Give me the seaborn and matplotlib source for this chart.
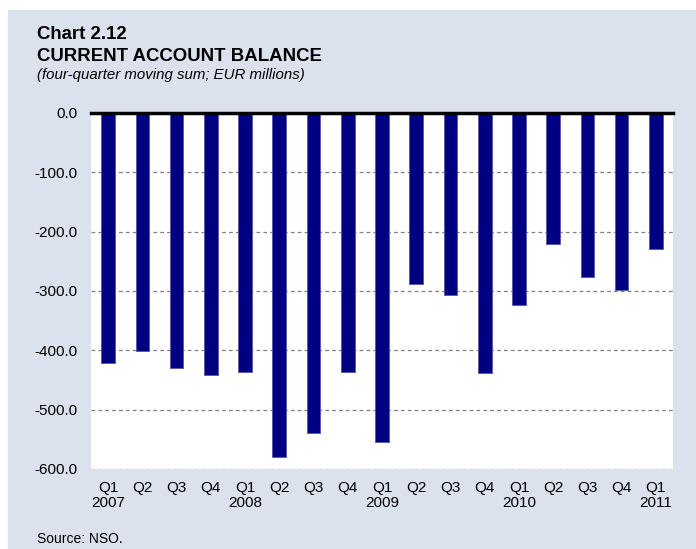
# Chart 2.12 — Current account balance (four-quarter moving sum)
import seaborn as sns
import matplotlib.pyplot as plt
import pandas as pd
from matplotlib.patches import Rectangle

PERIODS = ['2007Q1', '2007Q2', '2007Q3', '2007Q4',
           '2008Q1', '2008Q2', '2008Q3', '2008Q4',
           '2009Q1', '2009Q2', '2009Q3', '2009Q4',
           '2010Q1', '2010Q2', '2010Q3', '2010Q4',
           '2011Q1']
BALANCE = [-422, -401, -429, -442,
           -436, -580, -539, -436,
           -555, -289, -306, -438,
           -324, -220, -276, -298,
           -229]
TICK_LABELS = ['Q1\n2007', 'Q2', 'Q3', 'Q4',
               'Q1\n2008', 'Q2', 'Q3', 'Q4',
               'Q1\n2009', 'Q2', 'Q3', 'Q4',
               'Q1\n2010', 'Q2', 'Q3', 'Q4',
               'Q1\n2011']
Y_TICKS = [0, -100, -200, -300, -400, -500, -600]

BG = '#dce1ee'
BAR = '#000080'

sns.set_theme(style='white')
plt.rcParams['font.family'] = ['Liberation Sans', 'DejaVu Sans']
plt.rcParams['axes.unicode_minus'] = False
plt.rcParams['text.color'] = 'black'

df = pd.DataFrame({'periodo': PERIODS, 'saldo': BALANCE})

fig = plt.figure(figsize=(6.96, 5.49), dpi=100, facecolor='white')
fig.patches.append(Rectangle((8 / 696, 0), 1, (549 - 10) / 549,
                             transform=fig.transFigure, color=BG, zorder=-10))
ax = fig.add_axes([91 / 696, 1 - 469 / 549, (673 - 91) / 696, (469 - 113) / 549])
ax.set_facecolor('white')

sns.barplot(data=df, x='periodo', y='saldo', order=PERIODS, color=BAR,
            saturation=1, width=0.4, edgecolor='#5a5ab0', linewidth=0.7, ax=ax)

ax.set_ylim(-600, 0)
ax.set_xlim(-0.5, len(PERIODS) - 0.5)
ax.set_yticks(Y_TICKS)
ax.set_yticklabels([f'{v:.1f}' for v in Y_TICKS], fontsize=11)
ax.set_xticks(range(len(PERIODS)))
ax.set_xticklabels(TICK_LABELS, fontsize=11, linespacing=1.1)
ax.tick_params(axis='both', length=0, colors='black')
ax.tick_params(axis='y', pad=9.4)
ax.tick_params(axis='x', pad=8.5)
ax.set_xlabel('')
ax.set_ylabel('')

ax.yaxis.grid(True, color='#808080', linestyle=(0, (3, 2.5)), linewidth=0.9)
ax.set_axisbelow(True)
for s in ['left', 'right', 'bottom']:
    ax.spines[s].set_visible(False)
ax.spines['top'].set_visible(True)
ax.spines['top'].set_color('black')
ax.spines['top'].set_linewidth(2.5)

fig.text(37 / 696, 1 - 39 / 549, 'Chart 2.12', fontsize=13.4, fontweight='bold', va='baseline')
fig.text(37 / 696, 1 - 61 / 549, 'CURRENT ACCOUNT BALANCE', fontsize=13.4,
         fontweight='bold', va='baseline')
fig.text(37 / 696, 1 - 79 / 549, '(four-quarter moving sum; EUR millions)', fontsize=10.8,
         style='italic', va='baseline')
fig.text(37 / 696, 3 / 549, 'Source: NSO.', fontsize=10, va='bottom')

plt.savefig('out.png', dpi=100)
plt.close()
